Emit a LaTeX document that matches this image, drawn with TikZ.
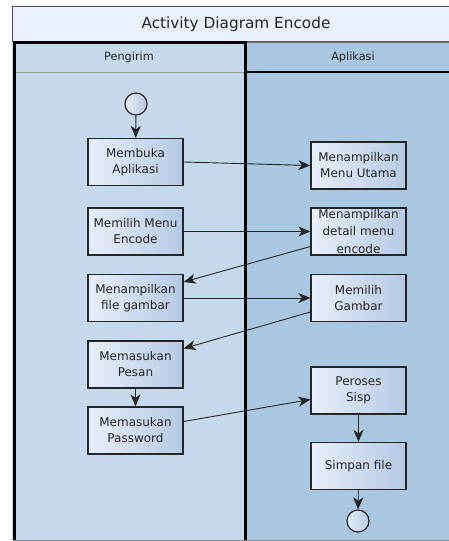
\documentclass[tikz,border=0pt]{standalone}
\usepackage{fontspec}
\setmainfont{DejaVu Sans}
\usetikzlibrary{arrows.meta}
\definecolor{titlefill}{HTML}{EAF1FD}
\definecolor{senderfill}{HTML}{C5D8EC}
\definecolor{appfill}{HTML}{A9C7E1}
\definecolor{actleft}{HTML}{E8EEF9}
\definecolor{actright}{HTML}{B5C9E5}
\definecolor{edge}{HTML}{262626}
\tikzset{
  act/.style={draw=edge, line width=1.3pt, left color=actleft, right color=actright,
    minimum width=95pt, minimum height=47pt, inner sep=0pt, align=center,
    font=\fontsize{12}{16}\selectfont, text=black!85},
  terminal/.style={circle, draw=edge, line width=1.2pt, left color=actleft, right color=actright,
    minimum size=22pt, inner sep=0pt},
  flow/.style={draw=black!85, line width=0.9pt, -{Stealth[length=12pt,width=10pt,inset=3.5pt]}},
  lanetitle/.style={font=\fontsize{11.3}{13}\selectfont, text=black!85},
}
\begin{document}
\begin{tikzpicture}[x=1pt,y=-1pt]
  \useasboundingbox (0,0) rectangle (449,541);
  \clip (0,0) rectangle (449,541);
  % white page
  \fill[white] (0,0) rectangle (449,541);
  % diagram title band
  \fill[titlefill] (12,6) rectangle (470,42);
  \draw[black!70, line width=1pt] (470,6) -- (12,6) -- (12,42);
  \node[font=\fontsize{15.3}{17}\selectfont, text=black!85] (title) at (236,24) {Activity Diagram Encode};
  % swimlanes
  \fill[appfill] (245,42) rectangle (470,541);
  \fill[senderfill] (12,42) rectangle (245,541);
  \draw[black!60, line width=1.6pt] (245,42) -- (470,42);
  \draw[black, line width=1.5pt] (245,72) -- (470,72);
  \draw[black!40, line width=0.8pt] (14,72) -- (245,72);
  \draw[black!45, line width=1pt] (14,540) -- (470,540);
  \draw[black, line width=3pt] (14,540) -- (14,42) -- (245,42) -- (245,540);
  \node[lanetitle] (pengirim) at (129,57) {Pengirim};
  \node[lanetitle] (aplikasi) at (353,57) {Aplikasi};

  % activities of the sender
  \node[terminal] (start) at (136,104) {};
  \node[act] (buka)  at (135.5,162)   {Membuka\\Aplikasi};
  \node[act] (menu)  at (135.5,231.5) {Memilih Menu\\Encode};
  \node[act] (file)  at (135.5,298)   {Menampilkan\\file gambar};
  \node[act] (pesan) at (135.5,364.5) {Memasukan\\Pesan};
  \node[act] (pass)  at (135.5,430.5) {Memasukan\\Password};
  % activities of the application
  \node[act] (utama)  at (358.5,165.5) {Menampilkan\\Menu Utama};
  \node[act, font=\fontsize{12}{17.5}\selectfont] (detail) at (358.5,231.5) {Menampilkan\\detail menu\\encode};
  \node[act] (gambar) at (358.5,298)   {Memilih\\Gambar};
  \node[act] (sisp)   at (358.5,390.5) {Peroses\\Sisp};
  \node[act] (simpan) at (358.5,466)   {Simpan file};
  \node[terminal] (stop) at (358,521) {};

  % control flow
  \draw[flow] (start) -- (buka);
  \draw[flow] (buka.east) -- (utama.west);
  \draw[flow] (menu.east) -- (detail.west);
  \draw[flow] ([yshift=-15pt]detail.west) -- ([yshift=16pt]file.east);
  \draw[flow] (file.east) -- (gambar.west);
  \draw[flow] ([yshift=-14pt]gambar.west) -- ([yshift=16pt]pesan.east);
  \draw[flow] (pesan) -- (pass);
  \draw[flow] ([yshift=9pt]pass.east) -- ([yshift=-9pt]sisp.west);
  \draw[flow] (sisp) -- (simpan);
  \draw[flow] (simpan) -- (stop);
\end{tikzpicture}
\end{document}
